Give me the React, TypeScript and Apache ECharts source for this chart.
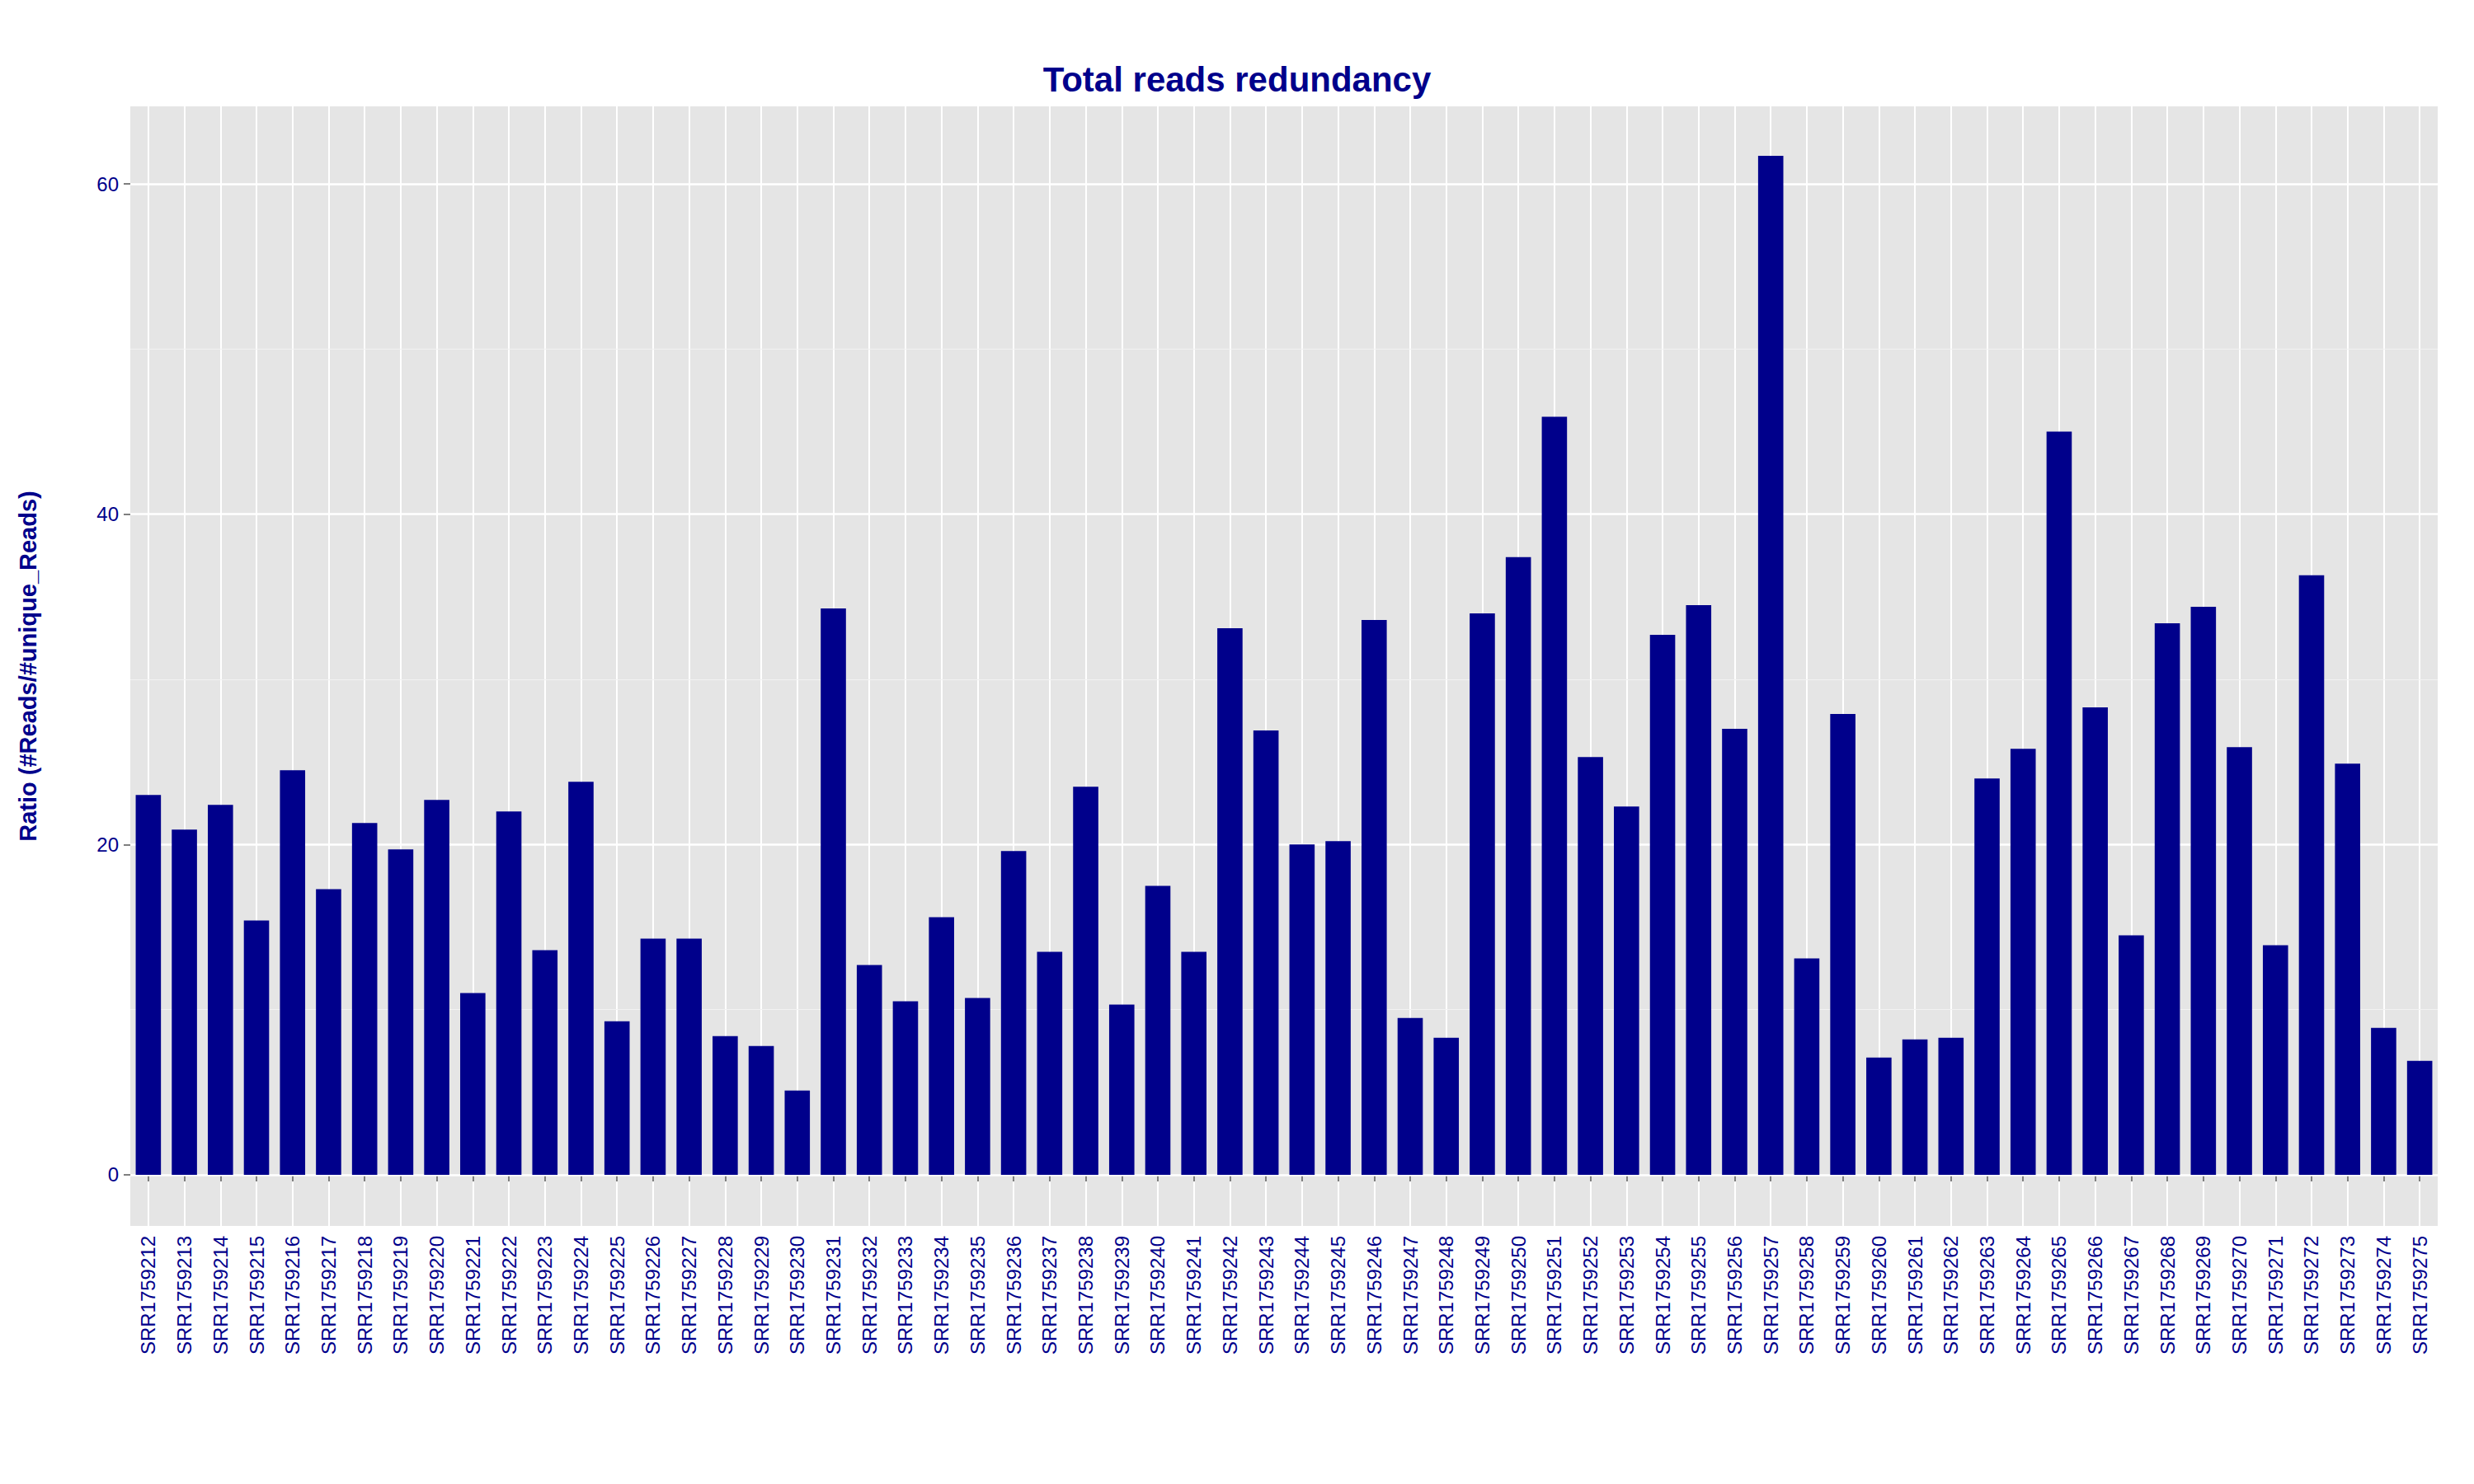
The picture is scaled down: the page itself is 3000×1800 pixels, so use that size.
import { useEffect, useRef } from 'react';
import * as echarts from 'echarts';

const samples: string[] = Array.from({ length: 64 }, (_, i) => `SRR${1759212 + i}`);

const ratios: number[] = [
  23.0, 20.9, 22.4, 15.4, 24.5, 17.3, 21.3, 19.7, 22.7, 11.0,
  22.0, 13.6, 23.8, 9.3, 14.3, 14.3, 8.4, 7.8, 5.1, 34.3,
  12.7, 10.5, 15.6, 10.7, 19.6, 13.5, 23.5, 10.3, 17.5, 13.5,
  33.1, 26.9, 20.0, 20.2, 33.6, 9.5, 8.3, 34.0, 37.4, 45.9,
  25.3, 22.3, 32.7, 34.5, 27.0, 61.7, 13.1, 27.9, 7.1, 8.2,
  8.3, 24.0, 25.8, 45.0, 28.3, 14.5, 33.4, 34.4, 25.9, 13.9,
  36.3, 24.9, 8.9, 6.9,
];

const majorTicks = [0, 20, 40, 60];
const minorTicks = [10, 30, 50];

const NAVY = '#00008B';

export default function App() {
  const ref = useRef<HTMLDivElement>(null);

  useEffect(() => {
    if (!ref.current) return;
    const chart = echarts.init(ref.current, undefined, { renderer: 'svg' });

    const option: echarts.EChartsOption = {
      animation: false,
      backgroundColor: '#ffffff',
      title: {
        text: 'Total reads redundancy',
        left: 'center',
        top: 70,
        textStyle: { color: NAVY, fontSize: 42, fontWeight: 'bold', fontFamily: 'Liberation Sans, Arial, sans-serif' },
      },
      grid: { left: 158, right: 44, top: 129, bottom: 313, backgroundColor: '#e5e5e5', show: true, borderWidth: 0 },
      xAxis: {
        type: 'category',
        data: samples,
        axisLine: { show: false },
        axisTick: { show: true, alignWithLabel: true, length: 8, lineStyle: { color: '#7f7f7f', width: 2 } },
        splitLine: { show: true, interval: 0, alignWithLabel: true, lineStyle: { color: '#ffffff', width: 2 } } as any,
        axisLabel: {
          interval: 0,
          rotate: 90,
          color: NAVY,
          fontSize: 24,
          margin: 12,
          fontFamily: 'Liberation Sans, Arial, sans-serif',
        },
      },
      yAxis: {
        type: 'value',
        min: -3.1,
        max: 64.7,
        name: 'Ratio (#Reads/#unique_Reads)',
        nameLocation: 'middle',
        nameGap: 110,
        nameTextStyle: { color: NAVY, fontSize: 29, fontWeight: 'bold', fontFamily: 'Liberation Sans, Arial, sans-serif' },
        axisLine: { show: false },
        splitLine: { show: false },
        axisTick: { show: true, length: 8, customValues: majorTicks, lineStyle: { color: '#7f7f7f', width: 2 } },
        axisLabel: {
          customValues: majorTicks,
          color: NAVY,
          fontSize: 24,
          margin: 14,
          fontFamily: 'Liberation Sans, Arial, sans-serif',
        },
      },
      series: [
        {
          type: 'bar',
          data: ratios,
          barWidth: '70%',
          itemStyle: { color: NAVY },
          z: 3,
          markLine: {
            silent: true,
            symbol: 'none',
            label: { show: false },
            z: 1,
            data: [
              ...minorTicks.map((v) => ({ yAxis: v, lineStyle: { color: '#f2f2f2', width: 1, type: 'solid' as const } })),
              ...majorTicks.map((v) => ({ yAxis: v, lineStyle: { color: '#ffffff', width: 2.5, type: 'solid' as const } })),
            ],
          },
        },
      ],
    };

    chart.setOption(option);
    return () => chart.dispose();
  }, []);

  return <div ref={ref} style={{ position: 'absolute', left: 0, top: 0, width: 3000, height: 1800 }} />;
}
